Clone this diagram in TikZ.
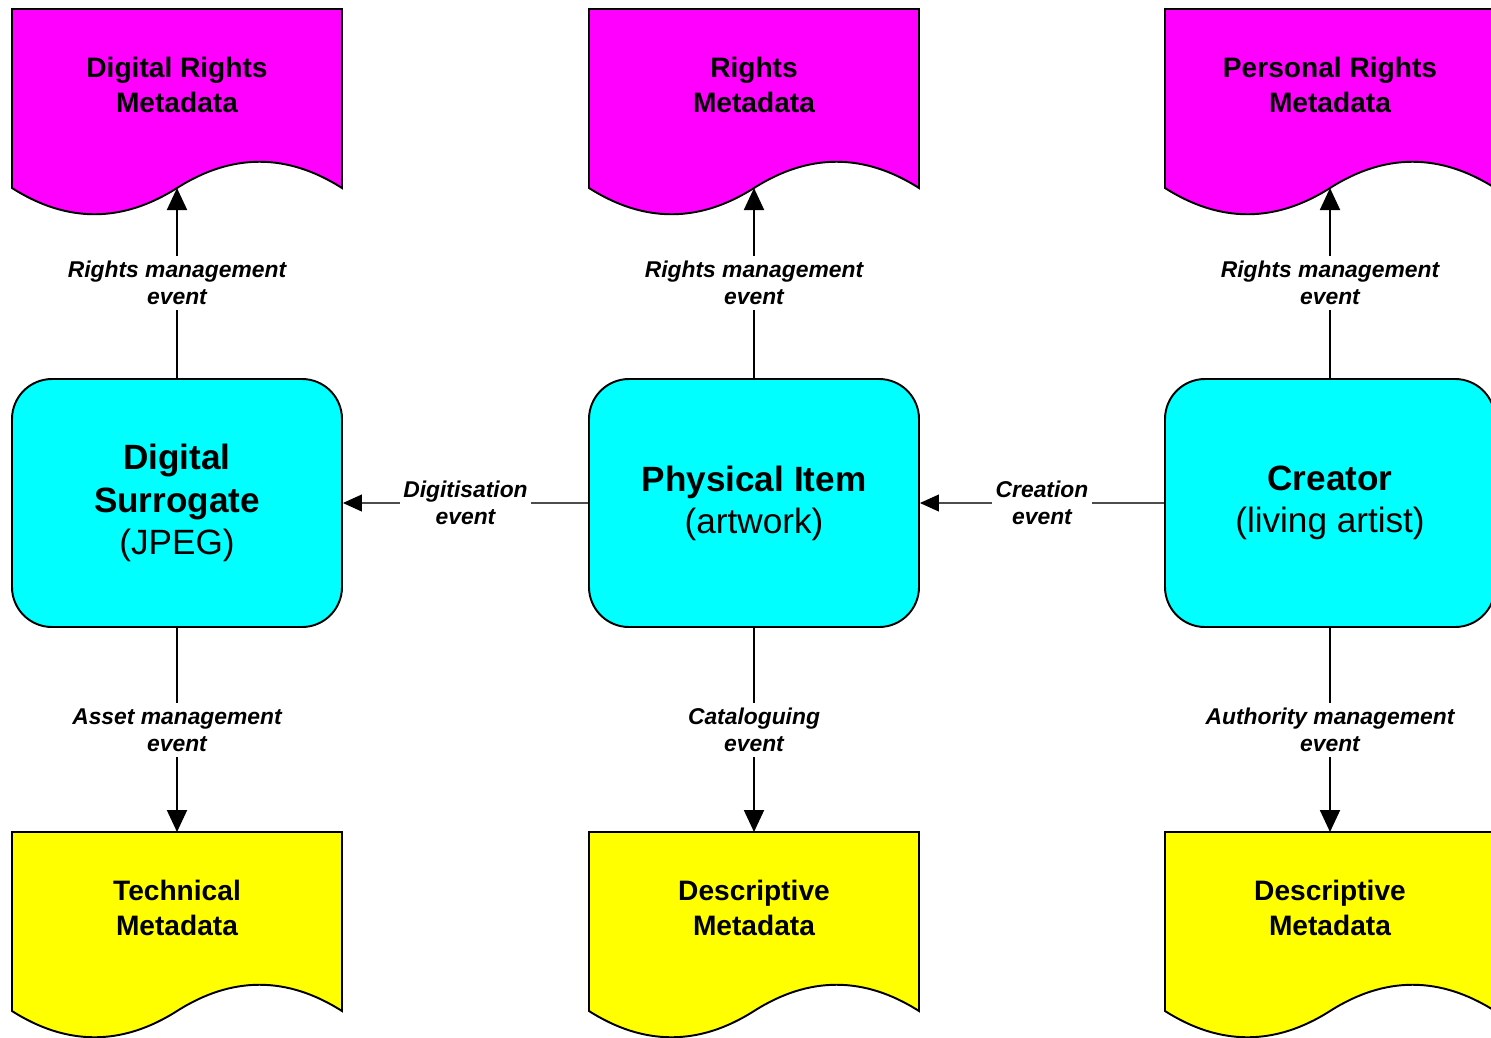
\documentclass[tikz,border=0pt]{standalone}
\usepackage{fontspec}
\setmainfont{Liberation Sans}
\usetikzlibrary{arrows.meta}

\definecolor{itemcyan}{RGB}{0,255,255}
\definecolor{rightsmagenta}{RGB}{255,0,255}
\definecolor{descyellow}{RGB}{255,255,0}

\tikzset{
  itembox/.style={draw, line width=1.1pt, fill=itemcyan, rounded corners=0.8cm,
    minimum width=6.6cm, minimum height=4.96cm, align=center,
    font=\fontsize{20}{24}\selectfont},
  doctext/.style={align=center, font=\bfseries\fontsize{16}{20}\selectfont},
  evlabel/.style={fill=white, align=center, inner xsep=2pt, inner ysep=3pt,
    font=\bfseries\itshape\fontsize{13}{15.5}\selectfont},
  vlink/.style={line width=1.1pt, -{Triangle[length=0.44cm,width=0.4cm]}},
  hlink/.style={line width=0.6pt, draw=black!70,
    -{Triangle[length=0.38cm,width=0.34cm,color=black]}}
}

% document shape: name, centre x, top y, fill
\newcommand{\metadoc}[4]{%
  \draw[line width=1.1pt, fill=#4] (#2-165,#3) -- (#2+165,#3) -- (#2+165,#3+179)
    .. controls (#2+110,#3+144) and (#2+55,#3+144) .. (#2,#3+179)
    .. controls (#2-55,#3+214) and (#2-110,#3+214) .. (#2-165,#3+179) -- cycle;
  \coordinate (#1-top) at (#2,#3);
  \coordinate (#1-wave) at (#2,#3+179);
}

\begin{document}
\begin{tikzpicture}[x=0.2mm,y=-0.2mm]
\useasboundingbox (0,0) rectangle (1491,1037);
\clip (0,0) rectangle (1491,1037);

% metadata documents
\metadoc{drm}{177}{9}{rightsmagenta}
\metadoc{rm}{754}{9}{rightsmagenta}
\metadoc{prm}{1330}{9}{rightsmagenta}
\metadoc{tech}{177}{832}{descyellow}
\metadoc{desc}{754}{832}{descyellow}
\metadoc{auth}{1330}{832}{descyellow}

\node[doctext] (drm) at (177,85) {Digital Rights\\Metadata};
\node[doctext] (rm) at (754,85) {Rights\\Metadata};
\node[doctext] (prm) at (1330,85) {Personal Rights\\Metadata};
\node[doctext] (tech) at (177,908) {Technical\\Metadata};
\node[doctext] (desc) at (754,908) {Descriptive\\Metadata};
\node[doctext] (auth) at (1330,908) {Descriptive\\Metadata};

% items
\node[itembox] (surrogate) at (177,503) {\textbf{Digital}\\\textbf{Surrogate}\\(JPEG)};
\node[itembox] (physical) at (754,503) {\textbf{Physical Item}\\(artwork)};
\node[itembox] (creator) at (1330,503) {\textbf{Creator}\\(living artist)};

% events
\draw[vlink] (surrogate) -- node[evlabel] {Rights management\\event} (drm-wave);
\draw[vlink] (physical) -- node[evlabel] {Rights management\\event} (rm-wave);
\draw[vlink] (creator) -- node[evlabel] {Rights management\\event} (prm-wave);
\draw[vlink] (surrogate) -- node[evlabel] {Asset management\\event} (tech-top);
\draw[vlink] (physical) -- node[evlabel] {Cataloguing\\event} (desc-top);
\draw[vlink] (creator) -- node[evlabel] {Authority management\\event} (auth-top);
\draw[hlink] (physical) -- node[evlabel] {Digitisation\\event} (surrogate);
\draw[hlink] (creator) -- node[evlabel] {Creation\\event} (physical);

\end{tikzpicture}
\end{document}
